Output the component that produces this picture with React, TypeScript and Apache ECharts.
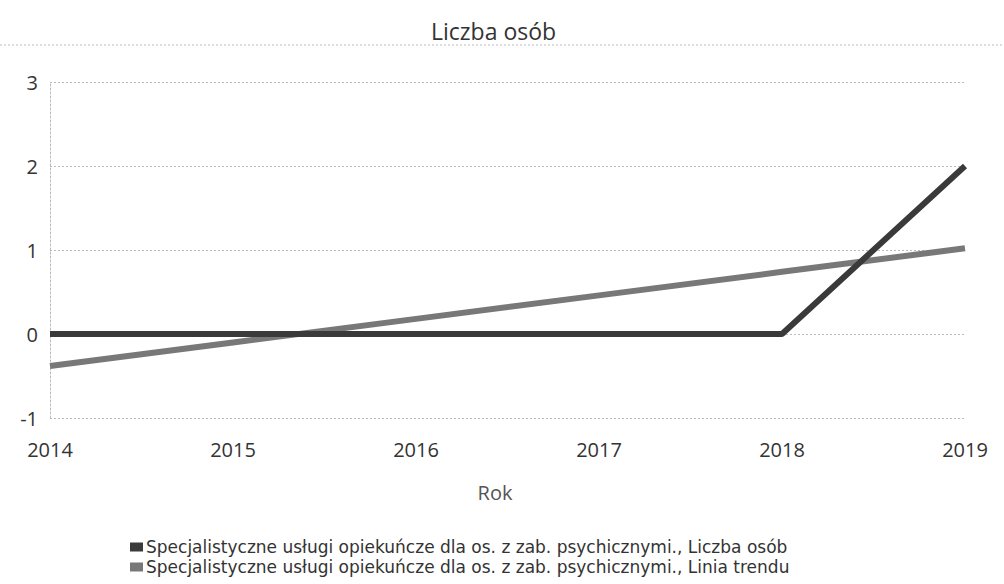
import React, { useEffect, useRef } from "react";
import * as echarts from "echarts";

const years = ["2014", "2015", "2016", "2017", "2018", "2019"];
const liczbaOsob = [0, 0, 0, 0, 0, 2];
const liniaTrendu = [-0.38, -0.1, 0.18, 0.46, 0.74, 1.02];
const yTicks = { min: -1, max: 3, interval: 1 };
const seriesNames = [
  "Specjalistyczne usługi opiekuńcze dla os. z zab. psychicznymi., Liczba osób",
  "Specjalistyczne usługi opiekuńcze dla os. z zab. psychicznymi., Linia trendu",
];

export default function App() {
  const ref = useRef<HTMLDivElement>(null);
  useEffect(() => {
    document.body.style.margin = "0";
    const chart = echarts.init(ref.current!, null, { renderer: "svg" });
    const font = "Open Sans";
    chart.setOption({
      animation: false,
      backgroundColor: "#fff",
      textStyle: { fontFamily: font },
      title: {
        text: "Liczba osób",
        left: 426,
        top: 14,
        textStyle: { fontFamily: font, fontSize: 23, fontWeight: "normal", color: "#333" },
      },
      graphic: [
        {
          type: "line",
          shape: { x1: 0, y1: 45, x2: 1004, y2: 45 },
          style: { stroke: "#bbb", lineWidth: 1, lineDash: [2, 2] },
        },
      ],
      legend: {
        orient: "vertical",
        left: 130,
        top: 537,
        padding: 0,
        itemWidth: 13,
        itemHeight: 9,
        itemGap: 0,
        icon: "rect",
        textStyle: { fontFamily: "DejaVu Sans", fontSize: 17, lineHeight: 20, color: "#333", padding: [0, 0, 0, -2] },
        data: seriesNames,
      },
      grid: { left: 50, right: 39, top: 82, bottom: 166, containLabel: false },
      xAxis: {
        type: "category",
        data: years,
        boundaryGap: false,
        name: "Rok",
        nameLocation: "middle",
        nameGap: 64,
        nameTextStyle: { fontFamily: font, fontSize: 20, color: "#555", padding: [0, 25, 0, 0] },
        axisLine: { show: false },
        axisTick: { show: false },
        axisLabel: { fontFamily: font, fontSize: 20, color: "#333", margin: 21 },
      },
      yAxis: {
        type: "value",
        min: yTicks.min,
        max: yTicks.max,
        interval: yTicks.interval,
        axisLine: { show: true, lineStyle: { color: "#bbb", type: [2, 2], width: 1 } },
        axisTick: { show: false },
        axisLabel: { fontFamily: font, fontSize: 20, color: "#333", margin: 12 },
        splitLine: { show: true, lineStyle: { color: "#bbb", type: [2, 2], width: 1 } },
      },
      series: [
        {
          name: seriesNames[0],
          type: "line",
          data: liczbaOsob,
          symbol: "none",
          lineStyle: { color: "#3a3a3a", width: 6 },
          itemStyle: { color: "#3a3a3a" },
          z: 3,
        },
        {
          name: seriesNames[1],
          type: "line",
          data: liniaTrendu,
          symbol: "none",
          lineStyle: { color: "#787878", width: 6 },
          itemStyle: { color: "#787878" },
          z: 2,
        },
      ],
    });
    return () => chart.dispose();
  }, []);
  return <div ref={ref} style={{ width: 1004, height: 584 }} />;
}
